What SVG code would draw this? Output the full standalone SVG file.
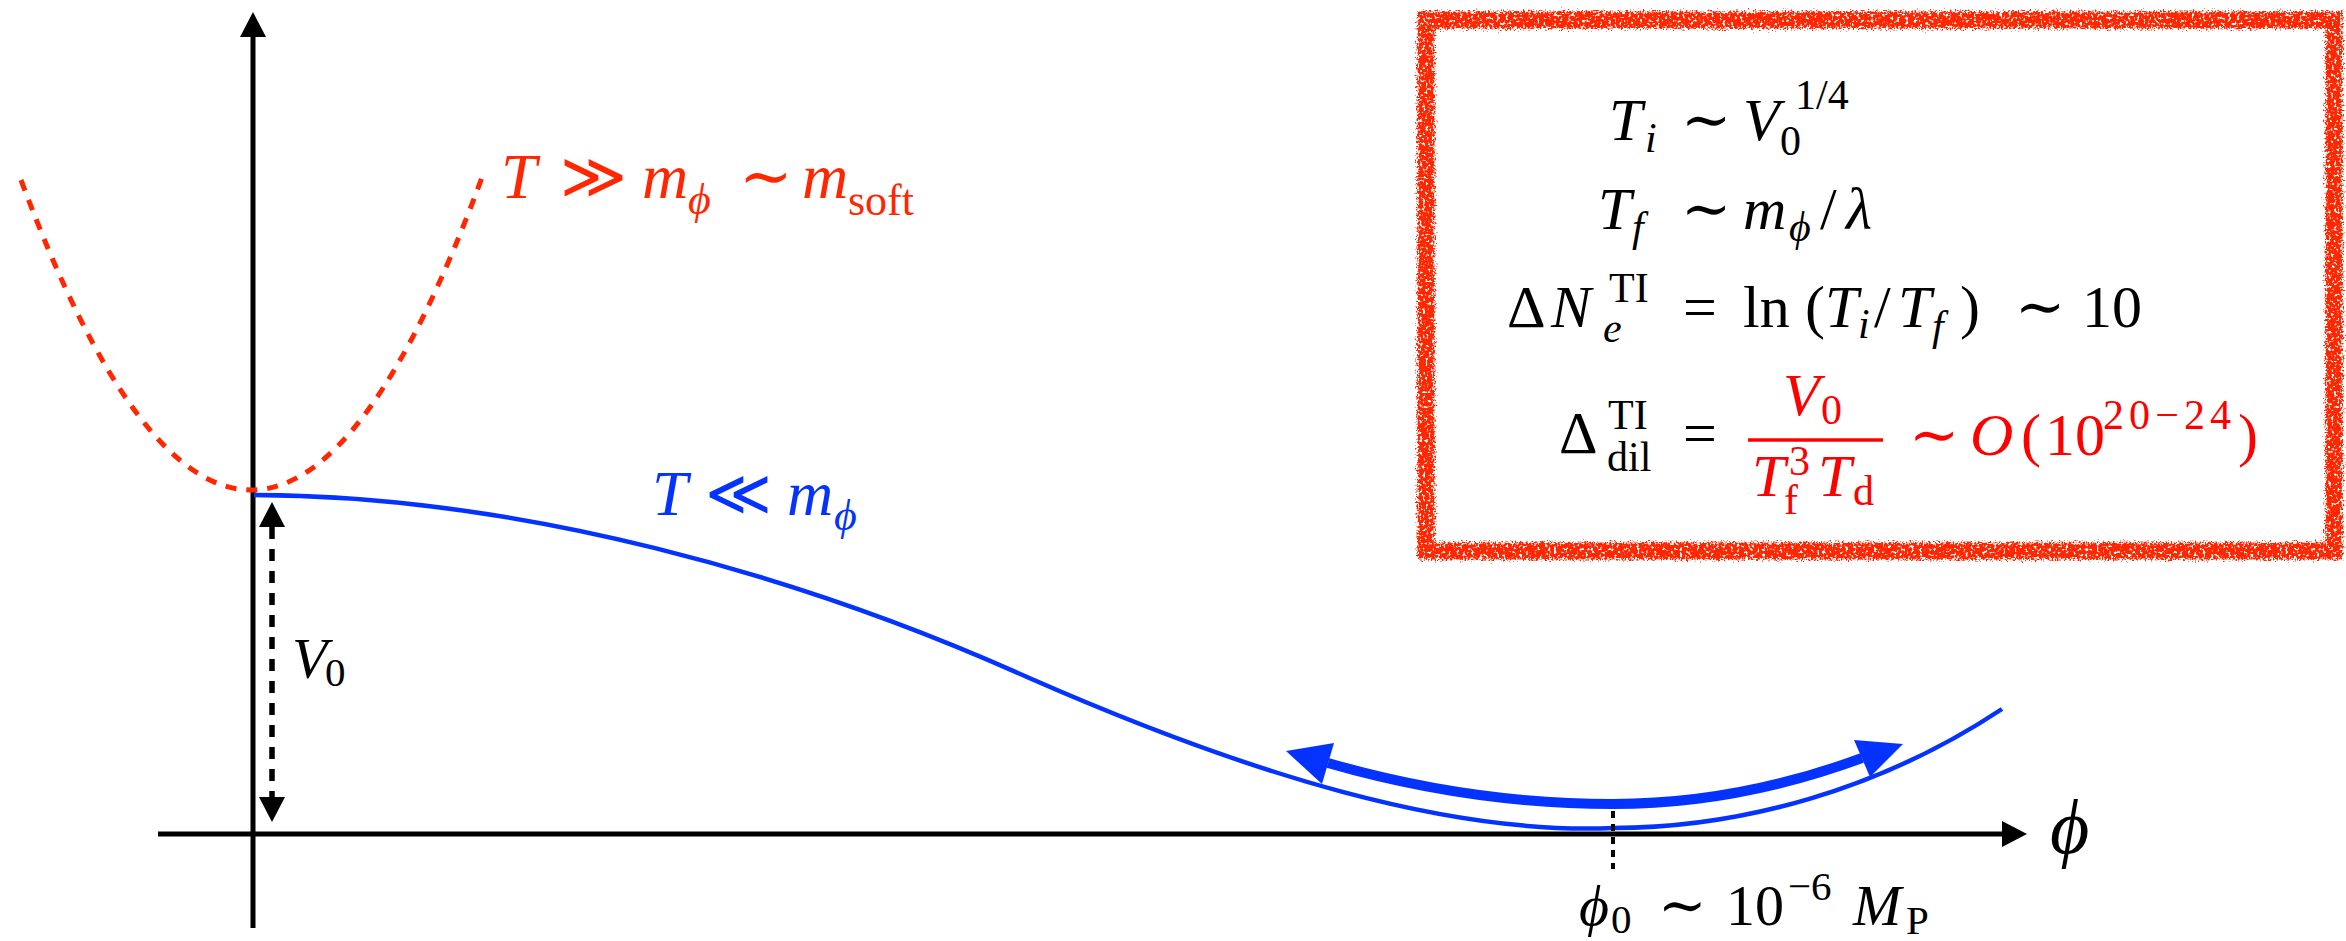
<svg xmlns="http://www.w3.org/2000/svg" width="2346" height="941" viewBox="0 0 2346 941" font-family="Liberation Serif, DejaVu Serif, serif">
<style>
text{font-family:'Liberation Serif','DejaVu Serif',serif;}
.it{font-style:italic;}
.m{font-size:60px;fill:#000;}
.s{font-size:42px;}
.red{fill:#ff0000;}
.lr{fill:#ff2600;}
.lb{fill:#0433ff;}
</style>
<defs>
<marker id="ah" markerUnits="userSpaceOnUse" markerWidth="25" markerHeight="26" viewBox="0 0 25 26" refX="0" refY="13" orient="auto-start-reverse">
<path d="M0,0 L25,13 L0,26 z" fill="#000"/>
</marker>
<filter id="rough" x="-3%" y="-5%" width="106%" height="110%">
<feTurbulence type="fractalNoise" baseFrequency="0.6" numOctaves="2" seed="4" result="n"/>
<feDisplacementMap in="SourceGraphic" in2="n" scale="11" xChannelSelector="R" yChannelSelector="G" result="d"/>
<feTurbulence type="fractalNoise" baseFrequency="0.35" numOctaves="2" seed="9" result="n2"/>
<feColorMatrix in="n2" type="matrix" values="0 0 0 0 0  0 0 0 0 0  0 0 0 0 0  0 0 0 -8 5.6" result="mask"/>
<feComposite in="d" in2="mask" operator="in"/>
</filter>
</defs>
<rect width="2346" height="941" fill="#fff"/>

<g id="axes">
<line x1="253" y1="928" x2="253" y2="37" stroke="#000" stroke-width="5" marker-end="url(#ah)"/>
<line x1="158" y1="834" x2="2002" y2="834" stroke="#000" stroke-width="5" marker-end="url(#ah)"/>
<text x="2050" y="853" class="it" font-size="76">ϕ</text>
</g>

<g id="curves">
<path id="red-dashed" d="M21,180 Q253,804 484,172" fill="none" stroke="#ff2600" stroke-width="5" stroke-dasharray="11 10"/>
<path id="blue-potential" d="M254,495 C520,496 800,575 1027,677 C1250,775 1450,835 1613,828 C1740,828 1880,790 2002,709" fill="none" stroke="#0433ff" stroke-width="4.5"/>
<g id="oscillation" fill="#0433ff">
<path d="M1328,763 Q1470,804 1613,804 Q1737,804 1862,758" fill="none" stroke="#0433ff" stroke-width="10"/>
<polygon points="1286,751 1334,743 1322,784"/>
<polygon points="1903,744 1854,740 1870,777"/>
</g>
</g>

<g id="connectors">
<line id="v0-arrow" x1="272" y1="527" x2="272" y2="797" stroke="#000" stroke-width="5.5" stroke-dasharray="12 10" marker-start="url(#ah)" marker-end="url(#ah)"/>
<line id="phi0-tick" x1="1613" y1="811" x2="1613" y2="869" stroke="#000" stroke-width="4" stroke-dasharray="7 6"/>
</g>

<g id="label-v0">
<text x="292" y="678" class="it" font-size="58">V</text>
<text x="325" y="686" font-size="41">0</text>
</g>

<g id="label-hot" class="lr">
<text y="198" font-size="64"><tspan x="501" class="it">T</tspan><tspan x="560">≫</tspan><tspan x="642" class="it">m</tspan><tspan x="688" y="214" class="it" font-size="44">ϕ</tspan><tspan x="739" y="198">∼</tspan><tspan x="802" class="it">m</tspan><tspan x="848" y="215" font-size="44">soft</tspan></text>
</g>

<g id="label-cold" class="lb">
<text y="515" font-size="64"><tspan x="652" class="it">T</tspan><tspan x="705">≪</tspan><tspan x="787" class="it">m</tspan><tspan x="834" y="530" class="it" font-size="44">ϕ</tspan></text>
</g>

<g id="label-phi0">
<text y="925" font-size="58"><tspan x="1579" class="it">ϕ</tspan><tspan x="1611" y="933" font-size="41">0</tspan><tspan x="1658" y="925">∼</tspan><tspan x="1726">10</tspan><tspan x="1788" y="900" font-size="41">−6</tspan><tspan x="1853" y="925" class="it">M</tspan><tspan x="1906" y="934" font-size="41">P</tspan></text>
</g>

<g id="infobox">
<rect x="1426" y="20" width="908" height="531" fill="none" stroke="#ff2600" stroke-width="17" filter="url(#rough)"/>
<g id="eq1" class="m">
<text y="140"><tspan x="1609" class="it">T</tspan><tspan x="1645" y="152" class="it s">i</tspan><tspan x="1681" y="140">∼</tspan><tspan x="1743" class="it">V</tspan><tspan x="1780" y="155" class="s">0</tspan><tspan x="1795" y="109" class="s">1/4</tspan></text>
</g>
<g id="eq2" class="m">
<text y="229"><tspan x="1598" class="it">T</tspan><tspan x="1632" y="241" class="it s">f</tspan><tspan x="1681" y="229">∼</tspan><tspan x="1743" class="it">m</tspan><tspan x="1789" y="241" class="it s">ϕ</tspan><tspan x="1820" y="229">/</tspan><tspan x="1846" class="it">λ</tspan></text>
</g>
<g id="eq3" class="m">
<text y="327"><tspan x="1507">Δ</tspan><tspan x="1551" class="it">N</tspan><tspan x="1603" y="342" class="it s">e</tspan><tspan x="1609" y="302" class="s">TI</tspan><tspan x="1683" y="327">=</tspan><tspan x="1743">ln</tspan><tspan x="1805">(</tspan><tspan x="1825" class="it">T</tspan><tspan x="1858" y="338" class="it s">i</tspan><tspan x="1874" y="327">/</tspan><tspan x="1898" class="it">T</tspan><tspan x="1932" y="340" class="it s">f</tspan><tspan x="1960" y="327">)</tspan><tspan x="2015">∼</tspan><tspan x="2082">10</tspan></text>
</g>
<g id="eq4" class="m">
<text y="453"><tspan x="1559">Δ</tspan><tspan x="1608" y="429" class="s">TI</tspan></text>
<text x="1607" y="471" class="s">dil</text>
<text x="1683" y="453">=</text>
<g class="red">
<text y="415"><tspan x="1783" class="it">V</tspan><tspan x="1821" y="424" class="s">0</tspan></text>
<line x1="1748" y1="440" x2="1883" y2="440" stroke="#ff0000" stroke-width="3.5"/>
<text y="496"><tspan x="1752" class="it">T</tspan><tspan x="1789" y="475" class="s">3</tspan><tspan x="1818" y="496" class="it">T</tspan><tspan x="1853" y="505" class="s">d</tspan></text>
<text x="1784" y="514" class="s">f</text>
<text y="455"><tspan x="1909">∼</tspan><tspan x="1970" class="it">O</tspan><tspan x="2021">(</tspan><tspan x="2045">10</tspan><tspan x="2103" y="429" class="s" textLength="128" lengthAdjust="spacing">20−24</tspan><tspan x="2238" y="455">)</tspan></text>
</g>
</g>
</g>
</svg>
